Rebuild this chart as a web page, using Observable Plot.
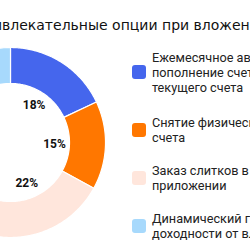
<!DOCTYPE html>
<html>
<head>
<meta charset="utf-8">
<script src="https://cdn.jsdelivr.net/npm/d3@7"></script>
<script src="https://cdn.jsdelivr.net/npm/@observablehq/plot@0.6"></script>
<style>
  html, body { margin: 0; padding: 0; background: #fff; }
  #wrap { position: relative; width: 250px; height: 250px; overflow: hidden; font-family: Roboto, "Noto Sans", sans-serif; }
  #title { position: absolute; top: 17px; left: 0; white-space: nowrap; font-family: "DejaVu Sans", sans-serif; font-size: 14px; line-height: 16px; color: #111; }
  #chart { position: absolute; top: 40px; left: 0; }
  .leg { position: absolute; left: 132px; display: flex; align-items: center; white-space: nowrap; }
  .sw { width: 14px; height: 14px; border-radius: 3px; flex: none; }
  .lt { margin-left: 6px; font-size: 12.7px; line-height: 15px; color: #222; }
</style>
</head>
<body>
<div id="wrap">
  <div id="title"></div>
  <div id="chart"></div>
</div>
<script>
const titleText = "Привлекательные опции при вложении в драгоценные металлы";
const titleHidden = "При";
const categories = [
  "Ежемесячное автоматическое пополнение счета с текущего счета",
  "Снятие физического металла со счета",
  "Заказ слитков в мобильном приложении",
  "Динамический график доходности от вложений"
];
const legendLines = [
  ["Ежемесячное автоматическое", "пополнение счета с", "текущего счета"],
  ["Снятие физического металла со", "счета"],
  ["Заказ слитков в мобильном", "приложении"],
  ["Динамический график", "доходности от вложений"]
];
const shares = [18, 15, 22, 45];
const colors = ["#4566ED", "#FF7700", "#FFE6DC", "#A7D9FC"];

// layout constants
const W = 250, H = 210, cx = 10, cy = 102, R = 95, r0 = 59, rLab = 44;

// title (leading part scrolled off the left edge like the reference crop)
const t = document.getElementById("title");
t.textContent = titleText;
const ctx = document.createElement("canvas").getContext("2d");
ctx.font = "14px 'DejaVu Sans'";
t.style.left = (2 - ctx.measureText(titleHidden).width) + "px";

// build slices from shares
const total = d3.sum(shares);
let acc = 0;
const polys = [], labels = [];
categories.forEach((name, i) => {
  const a0 = acc / total * 2 * Math.PI;
  acc += shares[i];
  const a1 = acc / total * 2 * Math.PI;
  const n = 80;
  for (let k = 0; k <= n; k++) {
    const a = a0 + (a1 - a0) * k / n;
    polys.push({name, x: R * Math.sin(a), y: R * Math.cos(a)});
  }
  for (let k = n; k >= 0; k--) {
    const a = a0 + (a1 - a0) * k / n;
    polys.push({name, x: r0 * Math.sin(a), y: r0 * Math.cos(a)});
  }
  const am = (a0 + a1) / 2;
  labels.push({name, x: rLab * Math.sin(am), y: rLab * Math.cos(am), text: shares[i] + "%"});
});

const chart = Plot.plot({
  width: W, height: H,
  margin: 0,
  style: {background: "transparent", overflow: "visible"},
  x: {domain: [-cx, W - cx], axis: null},
  y: {domain: [-(H - cy), cy], axis: null},
  color: {domain: categories, range: colors},
  marks: [
    Plot.line(polys, {x: "x", y: "y", z: "name", fill: "name", stroke: "white", strokeWidth: 1.2, curve: "linear-closed"}),
    Plot.text(labels, {x: "x", y: "y", text: "text", fontSize: 12, fontWeight: 700, fill: "#111", fontFamily: "Roboto"})
  ]
});
document.getElementById("chart").appendChild(chart);

// legend
const centers = [72, 129.5, 177.5, 225.5];
const wrap = document.getElementById("wrap");
categories.forEach((name, i) => {
  const d = document.createElement("div");
  d.className = "leg";
  const sw = document.createElement("div");
  sw.className = "sw";
  sw.style.background = colors[i];
  const lt = document.createElement("div");
  lt.className = "lt";
  lt.innerHTML = legendLines[i].join("<br>");
  d.appendChild(sw); d.appendChild(lt);
  wrap.appendChild(d);
  d.style.top = (centers[i] - legendLines[i].length * 15 / 2) + "px";
});
</script>
</body>
</html>
